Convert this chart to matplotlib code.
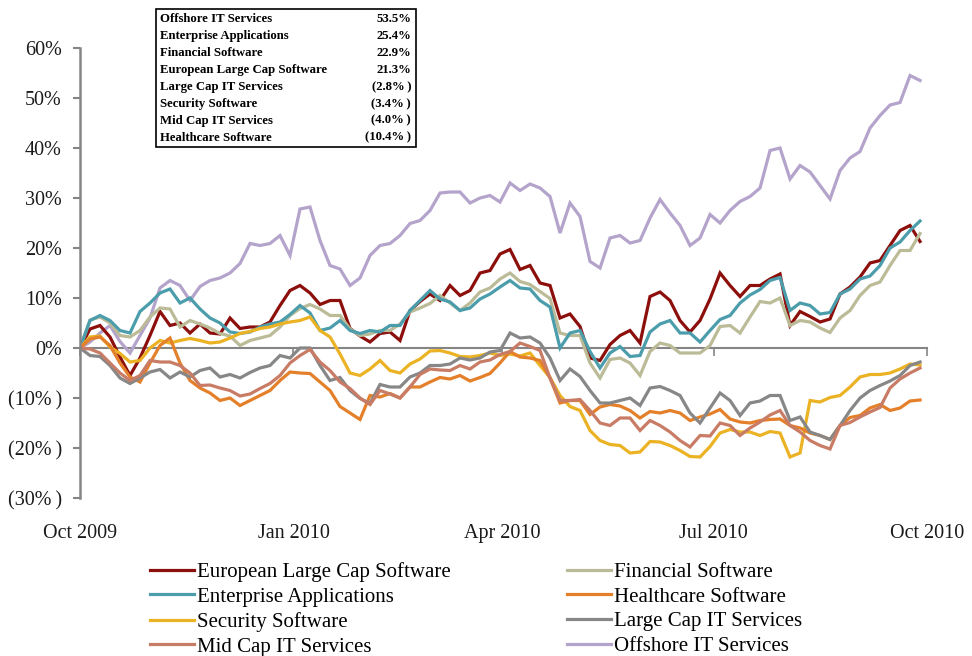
import numpy as np
import pandas as pd
import matplotlib
matplotlib.use('Agg')
import matplotlib.pyplot as plt
import matplotlib.dates as mdates
from matplotlib.ticker import FuncFormatter, MultipleLocator
from matplotlib.patches import Rectangle

plt.rcParams['font.family'] = ['Liberation Serif', 'DejaVu Serif']

# cumulative return (%), roughly every 4 days
dates = pd.date_range('2009-10-01', '2010-09-28', periods=85)

euro_large_cap_sw = [
    0, 3.8, 4.5, 2.2, -1.8, -5.5, -2, 2.5, 7.3, 4.5,
    5.0, 3.0, 4.8, 3.0, 2.8, 6.0, 3.9, 4.2, 4.2, 5.2,
    8.5, 11.5, 12.5, 11.0, 8.7, 9.5, 9.5, 3.9, 2.4, 1.2,
    2.9, 3.2, 1.5, 7.5, 9.3, 10.8, 9.5, 12.5, 10.5, 11.5,
    15.0, 15.5, 18.8, 19.7, 15.7, 16.5, 13.0, 12.5, 6.0, 6.8,
    4.3, -2.0, -2.5, 0.7, 2.5, 3.5, 1.0, 10.3, 11.2, 9.5,
    5.5, 3.2, 5.5, 9.8, 15.0, 12.5, 10.3, 12.5, 12.5, 13.8,
    14.8, 4.5, 7.3, 6.3, 5.2, 5.8, 10.8, 12.2, 14.2, 17.0,
    17.5, 20.5, 23.5, 24.5, 21.3]
enterprise_apps = [
    0, 5.5, 6.5, 5.5, 3.5, 3.0, 7.3, 9.0, 11.0, 11.8,
    9.0, 10.0, 7.8, 6.0, 5.0, 3.2, 2.9, 3.2, 4.2, 4.8,
    5.2, 6.7, 8.5, 7.0, 3.5, 4.0, 5.5, 3.5, 2.9, 3.5,
    3.2, 4.5, 4.5, 7.5, 9.5, 11.5, 9.8, 9.2, 7.5, 8.0,
    9.8, 10.8, 12.2, 13.5, 12.0, 11.8, 9.5, 8.2, 0.0, 3.0,
    3.5, -0.7, -4.0, -1.0, 0.3, -1.7, -1.5, 3.2, 4.8, 5.5,
    3.0, 3.0, 1.2, 3.5, 5.7, 6.5, 9.0, 10.6, 11.7, 13.5,
    14.1, 7.5, 9.0, 8.5, 6.8, 7.1, 10.8, 11.8, 13.8, 14.4,
    16.5, 20.0, 21.2, 23.5, 25.4]
security_sw = [
    0, 2.2, 2.4, 0.2, -1.1, -2.8, -2.5, 0.0, 1.5, 1.0,
    1.5, 1.9, 1.5, 1.0, 1.2, 2.0, 2.9, 3.3, 3.9, 4.2,
    4.8, 5.2, 5.5, 6.2, 3.5, 2.2, -1.2, -5.0, -5.5, -4.2,
    -2.5, -4.5, -5.0, -3.2, -2.2, -0.6, -0.5, -1.0, -1.7, -1.8,
    -1.5, -1.0, -1.5, -1.2, -1.6, -1.0, -3.5, -5.9, -9.5, -11.7,
    -12.5, -16.5, -18.5, -19.3, -19.5, -21.0, -20.8, -18.7, -18.8, -19.5,
    -20.5, -21.7, -21.8, -19.7, -17.0, -16.3, -16.8, -16.8, -17.5, -16.7,
    -17.0, -21.8, -21.0, -10.5, -10.8, -9.9, -9.5, -7.8, -5.8, -5.3,
    -5.3, -5.0, -4.2, -3.2, -3.4]
mid_cap_it = [
    0, -0.2, -1.0, -3.0, -5.0, -6.5, -5.5, -2.5, -2.8, -2.8,
    -3.5, -5.0, -7.5, -7.4, -8.0, -8.5, -9.6, -9.2, -8.1, -7.1,
    -5.5, -3.0, -1.5, -0.3, -2.8, -4.5, -6.8, -8.1, -10.0, -11.3,
    -8.5, -9.2, -10.0, -7.8, -5.3, -4.2, -4.4, -4.5, -3.5, -4.2,
    -2.8, -2.4, -1.3, -0.7, 1.0, 0.3, -0.5, -6.0, -10.5, -10.5,
    -10.3, -12.5, -15.0, -15.5, -14.0, -14.0, -16.5, -14.5, -15.5, -16.8,
    -18.5, -19.8, -17.5, -17.6, -15.0, -15.5, -17.5, -16.0, -14.8, -13.4,
    -12.5, -15.5, -16.8, -18.5, -19.5, -20.2, -15.5, -14.9, -13.8, -12.8,
    -11.9, -8.0, -6.2, -5.0, -4.0]
financial_sw = [
    0, 5.6, 6.2, 5.0, 2.5, 2.2, 3.5, 6.2, 8.0, 7.8,
    4.2, 5.5, 4.8, 4.0, 2.9, 2.4, 0.5, 1.5, 2.0, 2.5,
    4.2, 6.5, 7.9, 8.7, 7.8, 6.5, 6.5, 3.8, 2.5, 2.8,
    3.5, 3.5, 4.8, 7.2, 8.0, 8.9, 10.5, 9.0, 7.5, 9.0,
    11.2, 12.0, 13.8, 15.0, 13.3, 12.7, 11.3, 9.9, 3.0, 2.5,
    2.5, -3.0, -6.0, -2.3, -2.0, -3.0, -5.5, -0.7, 1.0, 0.5,
    -1.0, -1.0, -1.0, 0.5, 4.3, 4.5, 3.0, 6.2, 9.3, 9.0,
    10.0, 4.5, 5.5, 5.2, 4.0, 3.1, 6.0, 7.5, 10.5, 12.5,
    13.2, 16.5, 19.5, 19.5, 22.9]
healthcare_sw = [
    0, 1.8, 2.2, 0.5, -3.0, -5.8, -6.8, -3.0, 0.5, 2.0,
    -3.0, -6.5, -8.0, -9.0, -10.5, -10.0, -11.5, -10.5, -9.5, -8.5,
    -6.5, -4.8, -5.0, -5.1, -6.8, -8.5, -11.7, -13.0, -14.3, -9.5,
    -9.8, -9.1, -10.0, -7.8, -7.8, -6.8, -5.9, -6.2, -5.5, -6.6,
    -5.9, -5.1, -3.0, -0.7, -1.8, -2.0, -2.5, -6.0, -11.0, -10.5,
    -10.5, -13.3, -11.8, -11.3, -11.6, -12.5, -14.0, -12.7, -13.0, -12.5,
    -13.0, -14.5, -13.8, -13.2, -12.3, -14.2, -14.8, -15.0, -14.5, -14.3,
    -14.2, -15.5, -16.0, -17.0, -17.5, -18.3, -15.5, -13.9, -13.5, -12.0,
    -11.3, -12.5, -12.0, -10.6, -10.4]
large_cap_it = [
    0, -1.5, -1.7, -3.5, -6.0, -7.1, -6.0, -4.8, -4.3, -6.0,
    -4.8, -5.8, -4.5, -4.0, -5.8, -5.3, -6.0, -4.9, -4.0, -3.5,
    -1.5, -2.0, 0.0, 0.0, -3.5, -6.5, -5.9, -8.5, -10.1, -11.1,
    -7.3, -7.8, -7.8, -5.8, -5.0, -3.5, -3.5, -3.2, -2.0, -2.4,
    -2.0, -0.8, -0.5, 3.0, 2.0, 2.2, 1.0, -2.0, -6.5, -4.2,
    -5.7, -8.5, -11.0, -11.0, -10.5, -10.0, -11.5, -8.0, -7.7, -8.5,
    -9.5, -13.0, -15.0, -12.0, -9.0, -10.5, -13.5, -11.0, -10.6, -9.5,
    -9.5, -14.5, -13.8, -16.8, -17.5, -18.3, -15.5, -12.5, -10.0, -8.5,
    -7.5, -6.6, -5.5, -3.5, -2.8]
offshore_it = [
    0, 1.2, 3.0, 4.5, 1.3, -1.0, 2.5, 6.0, 12.0, 13.5,
    12.5, 9.5, 12.3, 13.5, 14.0, 15.0, 16.9, 20.9, 20.5, 20.9,
    22.5, 18.5, 27.8, 28.2, 21.5, 16.5, 15.8, 12.5, 14.0, 18.5,
    20.5, 20.9, 22.5, 24.9, 25.5, 27.5, 31.0, 31.2, 31.2, 29.0,
    30.0, 30.5, 29.2, 33.0, 31.5, 32.8, 32.0, 30.3, 23.0, 29.0,
    26.3, 17.3, 16.0, 22.0, 22.5, 21.0, 21.5, 26.0, 29.7, 27.0,
    24.5, 20.5, 22.0, 26.7, 25.0, 27.5, 29.3, 30.3, 32.0, 39.5,
    40.0, 33.8, 36.5, 35.2, 32.5, 29.8, 35.5, 38.0, 39.3, 44.0,
    46.5, 48.6, 49.1, 54.5, 53.5]

# legend order: column 1 then column 2
names = ['European Large Cap Software', 'Enterprise Applications', 'Security Software',
         'Mid Cap IT Services', 'Financial Software', 'Healthcare Software',
         'Large Cap IT Services', 'Offshore IT Services']
values = [euro_large_cap_sw, enterprise_apps, security_sw, mid_cap_it,
          financial_sw, healthcare_sw, large_cap_it, offshore_it]
colors = ['#8c0f0c', '#4b9dab', '#ebb223', '#c97c65',
          '#bcbb97', '#e47f2a', '#878787', '#b4a3cb']

# summary box (sorted by return)
table_names = ['Offshore IT Services', 'Enterprise Applications', 'Financial Software',
               'European Large Cap Software', 'Large Cap IT Services', 'Security Software',
               'Mid Cap IT Services', 'Healthcare Software']
table_returns = [53.5, 25.4, 22.9, 21.3, -2.8, -3.4, -4.0, -10.4]


def pct(v, decimals=0):
    s = f'{abs(v):.{decimals}f}%'
    return f'({s}\u2009)' if v < 0 else s


W, H = 972, 656
fig = plt.figure(figsize=(W / 100, H / 100), dpi=100)
ax = fig.add_axes([80 / W, 1 - 498 / H, (927 - 80) / W, 450 / H])

draw_order = [7, 0, 4, 1, 2, 5, 6, 3]
lines = {}
for i in draw_order:
    lines[i], = ax.plot(dates, values[i], color=colors[i], lw=2.3, label=names[i],
                        solid_joinstyle='miter')

ax.set_ylim(-30, 60)
ax.set_xlim(pd.Timestamp('2009-10-01'), pd.Timestamp('2010-10-01'))
ax.yaxis.set_major_locator(MultipleLocator(10))
ax.yaxis.set_major_formatter(FuncFormatter(lambda v, p: pct(v)))
ax.xaxis.set_major_locator(mdates.MonthLocator(bymonth=[1, 4, 7, 10]))
ax.xaxis.set_major_formatter(mdates.DateFormatter('%b %Y'))

for s in ['top', 'right']:
    ax.spines[s].set_visible(False)
ax.spines['left'].set_color('#858585')
ax.spines['left'].set_linewidth(1.8)
ax.spines['bottom'].set_position(('data', 0))
ax.spines['bottom'].set_color('#858585')
ax.spines['bottom'].set_linewidth(1.5)
ax.spines['bottom'].set_zorder(1)

ax.tick_params(axis='y', length=5, width=1.5, color='#858585', labelcolor='#1a1a1a',
               labelsize=14.5, pad=8)
ax.tick_params(axis='x', length=6, width=1.2, color='#858585', labelcolor='#1a1a1a',
               labelsize=14.5, pad=121)

# summary box
fig.patches.append(Rectangle((156 / W, 1 - 147 / H), 260 / W, 138 / H,
                             transform=fig.transFigure, fill=False, ec='black', lw=1.2))
for i, (n, r) in enumerate(zip(table_names, table_returns)):
    y = 1 - (19 + 16.96 * i) / H
    fig.text(160 / W, y, n, fontsize=9.2, fontweight='bold', va='center', ha='left')
    fig.text(411 / W, y, pct(r, 1), fontsize=9.2, fontweight='bold', va='center', ha='right')

fig.legend([lines[i] for i in range(8)], names, loc='upper left',
           bbox_to_anchor=(150 / W, 1 - 562 / H), ncol=2, frameon=False, fontsize=15,
           handlelength=2.1, handletextpad=0.15, columnspacing=5.6, labelspacing=0.25,
           borderaxespad=0, borderpad=0)

fig.savefig('out.png', dpi=100)
